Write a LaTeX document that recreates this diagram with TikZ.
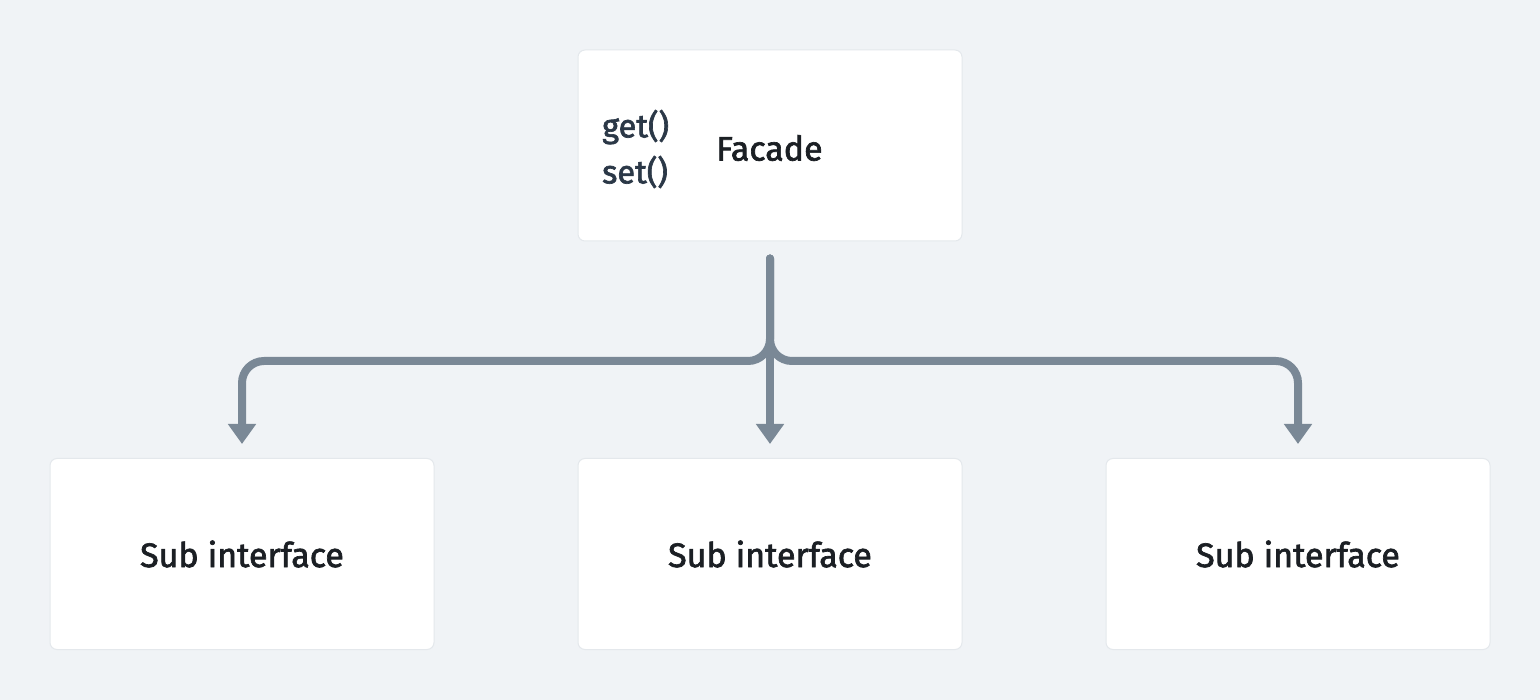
\documentclass[tikz,border=0pt]{standalone}
\usepackage{fontspec}
\setmainfont{Fira Sans}
\newfontfamily\medfont{Fira Sans}[FakeBold=2]
\usetikzlibrary{arrows.meta,calc}
\definecolor{bg}{HTML}{F0F3F6}
\definecolor{edgec}{HTML}{E4E8EC}
\definecolor{connc}{HTML}{7A8896}
\definecolor{txtc}{HTML}{1B1F24}
\definecolor{methc}{HTML}{2B3847}
\begin{document}
\begin{tikzpicture}[x=1pt,y=-1pt,
  box/.style={draw=edgec, line width=1pt, fill=white, rounded corners=7pt,
    minimum width=384pt, minimum height=191pt, inner sep=0pt,
    text=txtc, font=\medfont\fontsize{34}{38}\selectfont},
  label/.style={inner sep=0pt, text=txtc, font=\medfont\fontsize{34}{38}\selectfont},
  meth/.style={inner sep=0pt, text=methc, align=left, font=\medfont\fontsize{32.5}{46}\selectfont},
  connector/.style={draw=connc, line width=8pt, line cap=round, rounded corners=22pt,
    -{Triangle[width=27pt,length=20pt]}}]
\fill[bg] (0,0) rectangle (1540,700);
\useasboundingbox (0,0) rectangle (1540,700);
\node[box] (f) at (770,145.5) {};
\node[meth, anchor=west] (m) at (602,149) {get()\\set()};
\node[label, anchor=west] (fl) at (716,148) {Facade};
\node[box] (s1) at (242,554) {Sub interface};
\node[box] (s2) at (770,554) {Sub interface};
\node[box] (s3) at (1298,554) {Sub interface};
\coordinate (top) at ($(f.south)+(0,17)$);
\coordinate (bus) at (770,361);
\draw[connector] (top) -- (bus) -- (bus -| s1) -- ($(s1.north)+(0,-14)$);
\draw[connector] (top) -- (bus) -- (bus -| s3) -- ($(s3.north)+(0,-14)$);
\draw[connector] (top) -- ($(s2.north)+(0,-14)$);
\end{tikzpicture}
\end{document}
